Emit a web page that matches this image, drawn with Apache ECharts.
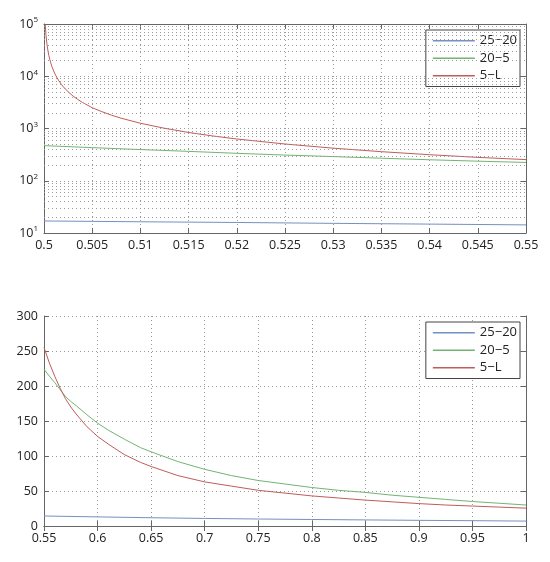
<!DOCTYPE html>
<html>
<head>
<meta charset="utf-8">
<script src="https://cdn.jsdelivr.net/npm/echarts@6/dist/echarts.min.js"></script>
<style>
  html, body { margin: 0; padding: 0; background: #fff; }
  #main { width: 550px; height: 562px; }
</style>
</head>
<body>
<div id="main"></div>
<script>
// names of the three curves
var names = ['25\u221220', '20\u22125', '5\u2212L'];
var colors = ['#7590c2', '#72b472', '#bf5c5c'];

// top panel, x from 0.5 to 0.55, log y
var topBlue = [[0.5, 17], [0.51, 16.4], [0.52, 15.9], [0.53, 15.3], [0.54, 14.8], [0.55, 14.3]];
var topGreen = [[0.5, 470], [0.505, 430], [0.51, 395], [0.515, 365], [0.52, 335], [0.525, 310],
  [0.53, 290], [0.535, 270], [0.54, 252], [0.545, 237], [0.55, 224]];
var topRed = [[0.50013, 97000], [0.5002, 63000], [0.5003, 42000], [0.5004, 31500], [0.5005, 25000],
  [0.5006, 21000], [0.5007, 18000], [0.5008, 15750], [0.501, 12600], [0.5012, 10500],
  [0.5015, 8400], [0.5018, 7000], [0.502, 6300], [0.5025, 5040], [0.503, 4200], [0.5035, 3600],
  [0.504, 3150], [0.505, 2500], [0.506, 2100], [0.507, 1800], [0.508, 1575], [0.51, 1260],
  [0.5125, 1010], [0.515, 840], [0.5175, 720], [0.52, 630], [0.525, 505], [0.53, 420],
  [0.535, 360], [0.54, 315], [0.545, 280], [0.55, 254]];

// bottom panel, x from 0.55 to 1, linear y
var botBlue = [[0.55, 14.3], [0.6, 13], [0.65, 11.8], [0.7, 10.8], [0.75, 10], [0.8, 9.3],
  [0.85, 8.7], [0.9, 8.1], [0.95, 7.6], [1, 7]];
var botGreen = [[0.55, 224], [0.555, 214], [0.56, 205], [0.565, 195], [0.57, 185], [0.575, 178],
  [0.58, 172], [0.59, 159], [0.6, 147], [0.61, 137], [0.625, 124], [0.64, 112], [0.65, 106],
  [0.675, 92], [0.7, 81], [0.725, 72], [0.75, 65], [0.775, 60], [0.8, 55], [0.825, 51],
  [0.85, 48], [0.875, 44], [0.9, 41], [0.925, 38], [0.95, 35], [0.975, 32.5], [1, 30]];
var botRed = [[0.55, 255], [0.555, 233], [0.56, 214], [0.565, 197], [0.57, 182], [0.575, 170],
  [0.58, 160], [0.59, 142], [0.6, 128], [0.61, 117], [0.625, 102], [0.64, 91], [0.65, 85],
  [0.675, 72], [0.7, 63], [0.725, 57], [0.75, 51], [0.775, 47], [0.8, 43], [0.825, 40],
  [0.85, 37], [0.875, 34.5], [0.9, 32], [0.925, 30], [0.95, 28.5], [0.975, 27], [1, 25.5]];

// minor log grid lines (2..9 in each decade)
var minorLog = [];
[10, 100, 1000, 10000].forEach(function (d) {
  for (var k = 2; k <= 9; k++) minorLog.push({ yAxis: d * k });
});

var font = 'Open Sans';
var axisColor = '#666';
var gridLine = { show: true, lineStyle: { color: '#9a9a9a', type: [1, 3], width: 1 } };
var tick = { show: true, inside: true, length: 5, lineStyle: { color: axisColor } };
var label = { color: '#222', fontSize: 12.5, fontFamily: font };

function fmt(v) { return String(parseFloat(v.toFixed(4))); }

function mirrorX(grid, min, max, interval) {
  return {
    gridIndex: grid, type: 'value', position: 'top', min: min, max: max, interval: interval,
    axisLine: { lineStyle: { color: axisColor } }, axisTick: tick,
    axisLabel: { show: false }, splitLine: { show: false }
  };
}

var myChart = echarts.init(document.getElementById('main'));

function line(name, data, xi, yi, color, extra) {
  var s = {
    name: name, type: 'line', data: data, xAxisIndex: xi, yAxisIndex: yi,
    symbol: 'none', animation: false,
    lineStyle: { color: color, width: 1 }, itemStyle: { color: color }
  };
  return Object.assign(s, extra || {});
}

var legendBase = {
  orient: 'vertical', right: 30, data: names,
  backgroundColor: '#fff', borderColor: '#444', borderWidth: 1,
  padding: [3, 3, 3, 7], itemGap: 2, itemWidth: 42, itemHeight: 1.5, icon: 'rect',
  textStyle: { fontSize: 13, lineHeight: 15.5, fontFamily: font, color: '#222' }
};

myChart.setOption({
  backgroundColor: '#fff',
  grid: [
    { left: 44, top: 24, width: 482, height: 209 },
    { left: 44, top: 316, width: 482, height: 210 }
  ],
  legend: [
    Object.assign({}, legendBase, { top: 30 }),
    Object.assign({}, legendBase, { top: 322 })
  ],
  xAxis: [
    {
      gridIndex: 0, type: 'value', min: 0.5, max: 0.55, interval: 0.005,
      axisLine: { lineStyle: { color: axisColor } }, axisTick: tick,
      axisLabel: Object.assign({ formatter: fmt, margin: 6 }, label), splitLine: gridLine
    },
    mirrorX(0, 0.5, 0.55, 0.005),
    {
      gridIndex: 1, type: 'value', min: 0.55, max: 1, interval: 0.05,
      axisLine: { lineStyle: { color: axisColor } }, axisTick: tick,
      axisLabel: Object.assign({ formatter: fmt, margin: 6 }, label), splitLine: gridLine
    },
    mirrorX(1, 0.55, 1, 0.05)
  ],
  yAxis: [
    {
      gridIndex: 0, type: 'log', logBase: 10, min: 10, max: 100000,
      axisLine: { show: true, lineStyle: { color: axisColor } }, axisTick: tick,
      axisLabel: Object.assign({
        margin: 6,
        formatter: function (v) { return '10{s|' + Math.round(Math.log10(v)) + '}'; },
        rich: { s: { fontSize: 8, fontFamily: font, color: '#222', verticalAlign: 'top', padding: [0, 0, 8, 0] } }
      }, label),
      splitLine: gridLine
    },
    {
      gridIndex: 0, type: 'log', logBase: 10, min: 10, max: 100000, position: 'right',
      axisLine: { show: true, lineStyle: { color: axisColor } }, axisTick: tick,
      axisLabel: { show: false }, splitLine: { show: false }
    },
    {
      gridIndex: 1, type: 'value', min: 0, max: 300, interval: 50,
      axisLine: { show: true, lineStyle: { color: axisColor } }, axisTick: tick,
      axisLabel: Object.assign({ margin: 6 }, label), splitLine: gridLine
    },
    {
      gridIndex: 1, type: 'value', min: 0, max: 300, interval: 50, position: 'right',
      axisLine: { show: true, lineStyle: { color: axisColor } }, axisTick: tick,
      axisLabel: { show: false }, splitLine: { show: false }
    }
  ],
  series: [
    line(names[0], topBlue, 0, 0, colors[0], {
      markLine: {
        silent: true, symbol: 'none', animation: false, label: { show: false },
        lineStyle: { color: '#9a9a9a', type: [1, 3], width: 1 },
        data: minorLog
      }
    }),
    line(names[1], topGreen, 0, 0, colors[1]),
    line(names[2], topRed, 0, 0, colors[2]),
    line(names[0], botBlue, 2, 2, colors[0]),
    line(names[1], botGreen, 2, 2, colors[1]),
    line(names[2], botRed, 2, 2, colors[2])
  ]
});
</script>
</body>
</html>
